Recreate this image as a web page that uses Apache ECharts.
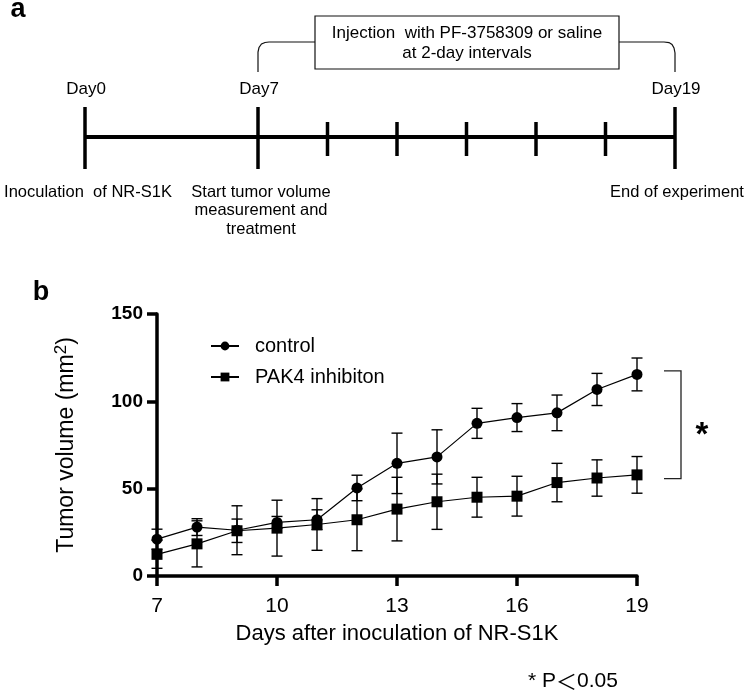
<!DOCTYPE html>
<html>
<head>
<meta charset="utf-8">
<script src="https://cdn.jsdelivr.net/npm/echarts/dist/echarts.min.js"></script>
<style>
  html, body { margin: 0; padding: 0; background: #fff; }
  #chart { width: 749px; height: 693px; }
</style>
</head>
<body>
<div id="chart"></div>
<script>
// ---------------- data (panel b) ----------------
const days = [7, 8, 9, 10, 11, 12, 13, 14, 15, 16, 17, 18, 19];
const controlMean = [21.1, 28.0, 26.2, 30.7, 32.2, 50.4, 64.5, 68.2, 87.4, 90.7, 93.4, 106.8, 115.4];
const controlSD   = [5.7, 4.8, 14.0, 3.4, 5.7, 7.3, 17.3, 15.5, 8.6, 8.0, 10.2, 9.2, 9.4];
const pak4Mean    = [12.4, 18.4, 25.9, 27.4, 29.5, 32.2, 38.3, 42.5, 45.1, 45.7, 53.5, 56.1, 57.9];
const pak4SD      = [8.0, 13.2, 6.7, 16.0, 14.8, 17.7, 18.2, 15.8, 11.4, 11.4, 11.0, 10.4, 10.5];
const seriesNames = ['control', 'PAK4 inhibiton'];
const xTickValues = [7, 10, 13, 16, 19];
const yTickValues = [0, 50, 100, 150];
const sigBracket  = [117.4, 55.8];   // values spanned by the significance bracket

// ---------------- data (panel a, timeline schematic) ----------------
const timelineDays   = [0, 7, 9, 11, 13, 15, 17, 19];
const timelineMajor  = [0, 7, 19];
const timelineLabels = ['Day0', 'Day7', 'Day19'];
const timelineNotes  = [
  ['Inoculation  of NR-S1K'],
  ['Start tumor volume', 'measurement and', 'treatment'],
  ['End of experiment']
];
const injectionText = ['Injection  with PF-3758309 or saline', 'at 2-day intervals'];

const FONT = '"Liberation Sans", Arial, sans-serif';

function errData(mean, sd) {
  return days.map((d, i) => [d, mean[i] - sd[i], mean[i] + sd[i]]);
}
function errRender(params, api) {
  const x = api.value(0);
  const lo = api.coord([x, api.value(1)]);
  const hi = api.coord([x, api.value(2)]);
  const w = 5.5;
  const st = { stroke: '#000', lineWidth: 1.4 };
  return {
    type: 'group',
    children: [
      { type: 'line', shape: { x1: hi[0], y1: hi[1], x2: lo[0], y2: lo[1] }, style: st },
      { type: 'line', shape: { x1: hi[0] - w, y1: hi[1], x2: hi[0] + w, y2: hi[1] }, style: st },
      { type: 'line', shape: { x1: lo[0] - w, y1: lo[1], x2: lo[0] + w, y2: lo[1] }, style: st }
    ]
  };
}

const chart = echarts.init(document.getElementById('chart'), null, { renderer: 'canvas' });

const option = {
  animation: false,
  backgroundColor: '#fff',
  textStyle: { fontFamily: FONT, color: '#000' },
  grid: { left: 157, right: 112, top: 314, bottom: 117, containLabel: false },
  legend: {
    orient: 'vertical',
    left: 205,
    top: 331,
    itemWidth: 28,
    itemHeight: 11,
    itemGap: 11,
    data: seriesNames,
    textStyle: { fontFamily: FONT, fontSize: 20, color: '#000', padding: [0, 0, 0, 11] }
  },
  xAxis: {
    type: 'value',
    min: 7,
    max: 19,
    name: 'Days after inoculation of NR-S1K',
    nameLocation: 'middle',
    nameGap: 47,
    nameTextStyle: { fontFamily: FONT, fontSize: 22, color: '#000' },
    splitLine: { show: false },
    axisLine: { lineStyle: { color: '#000', width: 3.5 } },
    axisTick: { length: 10, lineStyle: { color: '#000', width: 3.5 }, customValues: xTickValues },
    axisLabel: { fontFamily: FONT, fontSize: 21, color: '#000', margin: 20, customValues: xTickValues }
  },
  yAxis: {
    type: 'value',
    min: 0,
    max: 150,
    interval: 50,
    name: 'Tumor volume (mm{sup|2})',
    nameLocation: 'middle',
    nameRotate: 90,
    nameGap: 77,
    nameTextStyle: {
      fontFamily: FONT, fontSize: 23, color: '#000',
      rich: { sup: { fontFamily: FONT, fontSize: 17, color: '#000', padding: [0, 0, 10, 0] } }
    },
    splitLine: { show: false },
    axisLine: { lineStyle: { color: '#000', width: 3.5 } },
    axisTick: { length: 10, lineStyle: { color: '#000', width: 3.5 }, customValues: yTickValues },
    axisLabel: { fontFamily: FONT, fontSize: 19, fontWeight: 'bold', color: '#000', margin: 14, customValues: yTickValues }
  },
  series: [
    {
      type: 'custom', name: 'control-sd', renderItem: errRender,
      data: errData(controlMean, controlSD), z: 1, silent: true,
      encode: { x: 0, y: [1, 2] }
    },
    {
      type: 'custom', name: 'pak4-sd', renderItem: errRender,
      data: errData(pak4Mean, pak4SD), z: 1, silent: true,
      encode: { x: 0, y: [1, 2] }
    },
    {
      type: 'line', name: seriesNames[0],
      data: days.map((d, i) => [d, controlMean[i]]),
      symbol: 'circle', symbolSize: 11, z: 3,
      lineStyle: { color: '#000', width: 1.2 },
      itemStyle: { color: '#000' }
    },
    {
      type: 'line', name: seriesNames[1],
      data: days.map((d, i) => [d, pak4Mean[i]]),
      symbol: 'rect', symbolSize: 11, z: 3,
      lineStyle: { color: '#000', width: 1.2 },
      itemStyle: { color: '#000' }
    }
  ]
};
chart.setOption(option);

// ---------------- annotation graphics ----------------
function tx(d) {  // timeline schematic position (not to scale in original)
  return d <= 7 ? 85 + d * (173 / 7) : 258 + (d - 7) * ((675 - 258) / 12);
}
const g = [];
const txt = (x, y, s, extra) => Object.assign({
  type: 'text', x: x, y: y,
  style: Object.assign({ text: s, fill: '#000', font: '16.5px ' + FONT, align: 'center', verticalAlign: 'middle' }, extra || {})
});

// panel letters
g.push({ type: 'text', x: 18, y: 10, style: { text: 'a', fill: '#000', font: 'bold 27px ' + FONT, align: 'center', verticalAlign: 'middle' } });
g.push({ type: 'text', x: 41, y: 293, style: { text: 'b', fill: '#000', font: 'bold 27px ' + FONT, align: 'center', verticalAlign: 'middle' } });

// timeline axis
g.push({ type: 'line', shape: { x1: tx(0), y1: 137, x2: tx(19), y2: 137 }, style: { stroke: '#000', lineWidth: 4 } });
timelineDays.forEach(d => {
  const major = timelineMajor.indexOf(d) >= 0;
  g.push({ type: 'line', shape: { x1: tx(d), y1: major ? 107 : 122, x2: tx(d), y2: major ? 169 : 156 },
    style: { stroke: '#000', lineWidth: 3.5 } });
});
timelineMajor.forEach((d, i) => {
  g.push(txt(tx(d) + 1, 89, timelineLabels[i], { font: '17px ' + FONT }));
  timelineNotes[i].forEach((line, j) => {
    let x = tx(d) + 3;
    if (i === 2) x = 677;
    g.push(txt(x, 192 + j * 18.5, line));
  });
});
// injection bracket + box
const boxL = 315, boxR = 619, boxT = 16, boxB = 69, by = 42;
const L = tx(7), R = tx(19);
g.push({ type: 'polyline', shape: { points: [[L, 72], [L, 52], [L + 1, 47.5], [L + 3.5, 44], [L + 7, 42.5], [L + 11, 42], [boxL, by]] },
  style: { stroke: '#111', lineWidth: 1.2, fill: null } });
g.push({ type: 'polyline', shape: { points: [[boxR, by], [R - 11, 42], [R - 6, 42.6], [R - 3, 44.5], [R - 1, 48], [R, 53], [R, 72]] },
  style: { stroke: '#111', lineWidth: 1.2, fill: null } });
g.push({ type: 'rect', shape: { x: boxL, y: boxT, width: boxR - boxL, height: boxB - boxT },
  style: { stroke: '#111', lineWidth: 1.2, fill: '#fff' } });
g.push(txt((boxL + boxR) / 2, 33, injectionText[0], { font: '17px ' + FONT }));
g.push(txt((boxL + boxR) / 2, 53, injectionText[1], { font: '17px ' + FONT }));

// significance bracket (panel b)
const pTop = chart.convertToPixel({ gridIndex: 0 }, [19, sigBracket[0]]);
const pBot = chart.convertToPixel({ gridIndex: 0 }, [19, sigBracket[1]]);
const bx = pTop[0] + 44;
g.push({ type: 'polyline', shape: { points: [[bx - 17, pTop[1]], [bx, pTop[1]], [bx, pBot[1]], [bx - 17, pBot[1]]] },
  style: { stroke: '#222', lineWidth: 1.3, fill: null } });
g.push({ type: 'text', x: bx + 21, y: (pTop[1] + pBot[1]) / 2 + 11,
  style: { text: '*', fill: '#000', font: 'bold 33px ' + FONT, align: 'center', verticalAlign: 'middle' } });

// footnote
g.push({ type: 'text', x: 528, y: 681, style: {
  text: '* P{lt|＜}0.05', fill: '#000', font: '21px ' + FONT, align: 'left', verticalAlign: 'middle',
  rich: { lt: { fontFamily: '"Noto Sans CJK JP", sans-serif', fontSize: 21, fill: '#000' } }
} });

chart.setOption({ graphic: { elements: g } });
</script>
</body>
</html>
